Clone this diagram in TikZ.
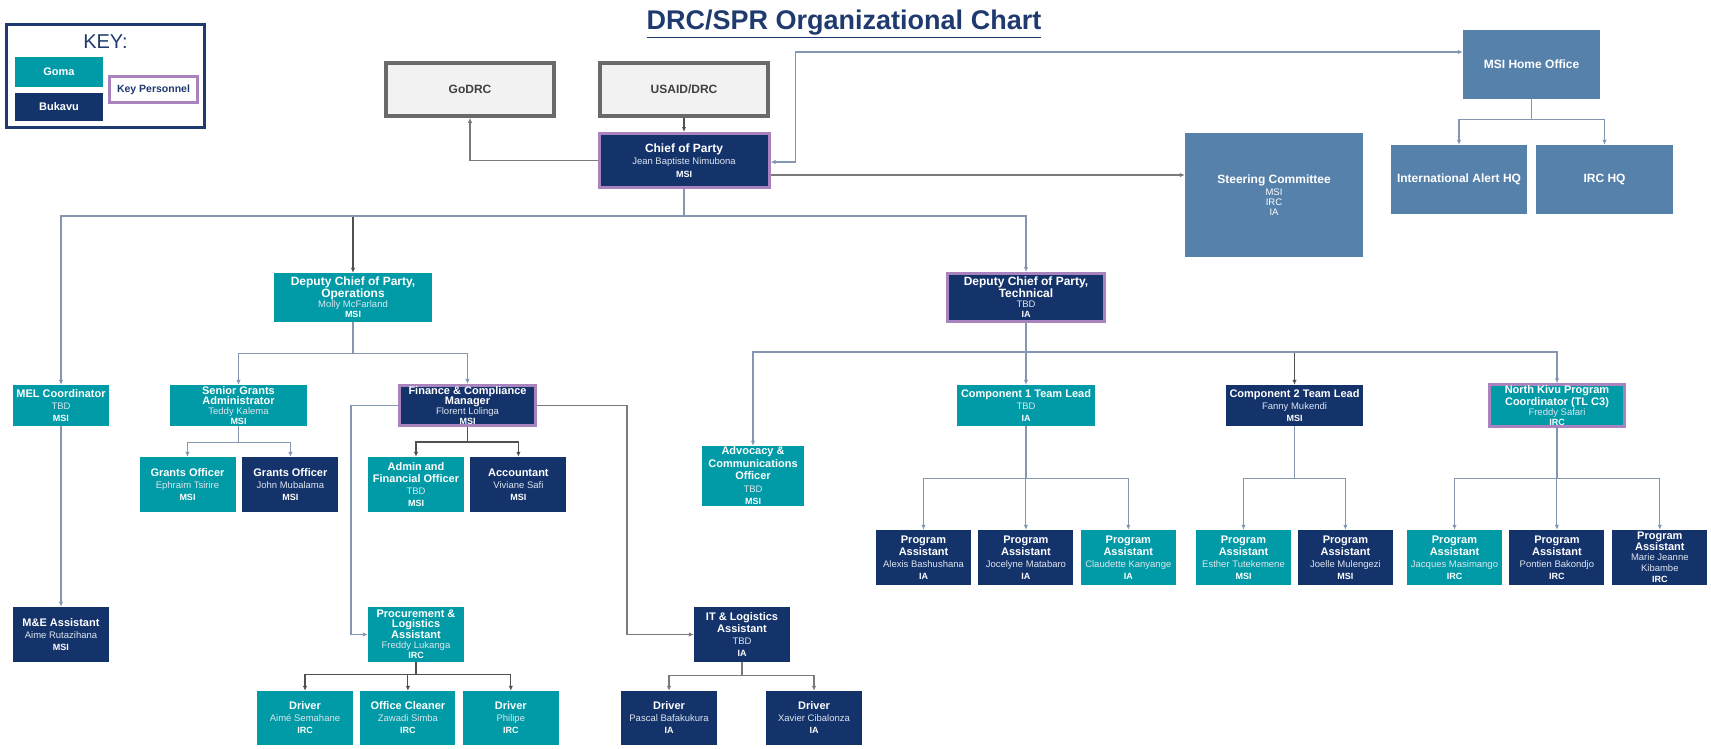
\documentclass[tikz,border=0pt]{standalone}
\usepackage{fontspec}
\setmainfont{Liberation Sans}
\usetikzlibrary{arrows.meta,positioning}
\definecolor{gomateal}{HTML}{009BA6}
\definecolor{bukavunavy}{HTML}{15336B}
\definecolor{keyline}{HTML}{A883BE}
\definecolor{hqblue}{HTML}{5681AB}
\definecolor{boxgray}{HTML}{F2F2F2}
\definecolor{rimgray}{HTML}{6A6A6A}
\definecolor{textgray}{HTML}{404040}
\definecolor{linkblue}{HTML}{8497B0}
\definecolor{linkdark}{HTML}{505050}
\definecolor{linkgray}{HTML}{7A7A7A}
\definecolor{titlenavy}{HTML}{1F3A6E}
\definecolor{paletext}{HTML}{DCE5EE}
\newcommand{\staff}[3]{{\bfseries #1}\\{\color{paletext}\fontsize{9.5}{10}\selectfont #2}\\{\bfseries\fontsize{9}{10}\selectfont #3}}

\begin{document}
\begin{tikzpicture}[x=1pt,y=-1pt,
			box/.style={inner xsep=0pt,inner ysep=1pt,align=flush center,text=white,text width=95pt,minimum height=55pt,font=\fontsize{11}{12}\selectfont},
			goma/.style={box,fill=gomateal},
			bukavu/.style={box,fill=bukavunavy},
			kp/.style={draw=keyline,line width=3pt},
			tight/.style={font=\fontsize{11}{10}\selectfont},
			deputy/.style={font=\fontsize{12}{10}\selectfont},
			hq/.style={fill=hqblue,text=white,align=flush center,inner sep=0pt,font=\bfseries\fontsize{12}{13}\selectfont},
			ext/.style={fill=boxgray,draw=rimgray,line width=3.5pt,text=textgray,minimum width=168pt,minimum height=53pt,font=\bfseries\fontsize{12}{13}\selectfont},
			arr/.style={-{Latex[length=5pt,width=4.5pt]},line width=1.1pt,draw=linkblue},
			arrd/.style={arr,draw=linkdark},
			arrg/.style={arr,draw=linkgray}
			]
			\useasboundingbox (0,0) rectangle (1711,748);
			% key
			\node[draw=titlenavy,line width=2.5pt,minimum width=198pt,minimum height=103pt] (key) at (105.5,76) {};
			\node[text=titlenavy,font=\fontsize{20}{22}\selectfont] (keytitle) at (105.5,42) {KEY:};
			\node[goma,text width=88pt,minimum height=30pt,font=\bfseries\fontsize{11}{12}\selectfont] (kgoma) at (59,72) {Goma};
			\node[bukavu,text width=88pt,minimum height=28pt,font=\bfseries\fontsize{11}{12}\selectfont] (kbukavu) at (59,106.5) {Bukavu};
			\node[kp,fill=white,text=titlenavy,inner sep=0pt,minimum width=88pt,minimum height=26pt,font=\bfseries\fontsize{10.5}{12}\selectfont] (kpers) at (153.5,89.5) {Key Personnel};
			\node[text=titlenavy,font=\bfseries\fontsize{27}{30}\selectfont] (title) at (844,24) {\underline{DRC/SPR Organizational Chart}};
			% top
			\node[ext] (godrc) at (470,89.5) {GoDRC};
			\node[ext] (usaid) at (684,89.5) {USAID/DRC};
			\node[bukavu,kp,text width=170pt,minimum height=54pt,font=\fontsize{12}{12.5}\selectfont] (cop) at (684,160.5) {\staff{Chief of Party}{Jean Baptiste Nimubona}{MSI}};
			\node[hq,minimum width=137pt,minimum height=69pt] (msiho) at (1531.5,64.5) {MSI Home Office};
			\node[hq,minimum width=136pt,minimum height=69pt] (iahq) at (1459,179.5) {International Alert HQ};
			\node[hq,minimum width=137pt,minimum height=69pt] (irchq) at (1604.5,179.5) {IRC HQ};
			\node[hq,minimum width=178pt,minimum height=124pt,font=\fontsize{9.5}{10}\selectfont] (steer) at (1274,195) {{\bfseries\fontsize{12}{13}\selectfont Steering Committee}\\[2pt]MSI\\IRC\\IA};
			% deputies
			\node[goma,deputy,text width=158pt,minimum height=49pt] (dcops) at (353,297.5) {\staff{Deputy Chief of Party,\\Operations}{Molly McFarland}{MSI}};
			\node[bukavu,kp,deputy,text width=157pt,minimum height=48pt] (dctech) at (1026,297.5) {\staff{Deputy Chief of Party,\\Technical}{TBD}{IA}};
			% leads
			\node[goma,text width=96pt,minimum height=41pt] (mel) at (61,405.5) {\staff{MEL Coordinator}{TBD}{MSI}};
			\node[goma,tight,text width=137pt,minimum height=41pt] (sga) at (238.5,405.5) {\staff{Senior Grants\\Administrator}{Teddy Kalema}{MSI}};
			\node[bukavu,kp,tight,text width=136pt,minimum height=40pt] (fcm) at (467.5,405.5) {\staff{Finance \& Compliance\\Manager}{Florent Lolinga}{MSI}};
			\node[goma,text width=138pt,minimum height=41pt] (comp1) at (1026,405.5) {\staff{Component 1 Team Lead}{TBD}{IA}};
			\node[bukavu,text width=137pt,minimum height=41pt] (comp2) at (1294.5,405.5) {\staff{Component 2 Team Lead}{Fanny Mukendi}{MSI}};
			\node[goma,kp,tight,text width=135pt,minimum height=40pt] (nkpc) at (1557,405.5) {\staff{North Kivu Program\\Coordinator (TL C3)}{Freddy Safari}{IRC}};
			% officers
			\node[goma,text width=96pt] (go1) at (187.5,484.5) {\staff{Grants Officer}{Ephraim Tsirire}{MSI}};
			\node[bukavu,text width=96pt] (go2) [right=6.5pt of go1] {\staff{Grants Officer}{John Mubalama}{MSI}};
			\node[goma,text width=96pt] (afo) at (416,484.5) {\staff{Admin and\\Financial Officer}{TBD}{MSI}};
			\node[bukavu,text width=96pt] (acct) [right=6pt of afo] {\staff{Accountant}{Viviane Safi}{MSI}};
			\node[goma,text width=102pt,minimum height=58pt,font=\fontsize{11}{12.5}\selectfont] (adv) at (753,476) {\staff{Advocacy \&\\Communications\\Officer}{TBD}{MSI}};
			% program assistants
			\node[bukavu] (pa1) at (923.5,557.5) {\staff{Program\\Assistant}{Alexis Bashushana}{IA}};
			\node[bukavu] (pa2) [right=7pt of pa1] {\staff{Program\\Assistant}{Jocelyne Matabaro}{IA}};
			\node[goma] (pa3) [right=7pt of pa2] {\staff{Program\\Assistant}{Claudette Kanyange}{IA}};
			\node[goma] (pa4) at (1243.5,557.5) {\staff{Program\\Assistant}{Esther Tutekemene}{MSI}};
			\node[bukavu] (pa5) [right=6.5pt of pa4] {\staff{Program\\Assistant}{Joelle Mulengezi}{MSI}};
			\node[goma] (pa6) at (1454.5,557.5) {\staff{Program\\Assistant}{Jacques Masimango}{IRC}};
			\node[bukavu] (pa7) [right=7pt of pa6] {\staff{Program\\Assistant}{Pontien Bakondjo}{IRC}};
			\node[bukavu,font=\fontsize{11}{11}\selectfont] (pa8) [right=7.5pt of pa7] {\staff{Program\\Assistant}{Marie Jeanne\\Kibambe}{IRC}};
			% assistants
			\node[bukavu,text width=96pt] (mea) at (61,634.5) {\staff{M\&E Assistant}{Aime Rutazihana}{MSI}};
			\node[goma,tight,text width=96pt] (proc) at (416,634.5) {\staff{Procurement \&\\Logistics\\Assistant}{Freddy Lukanga}{IRC}};
			\node[bukavu,text width=96pt] (itla) at (742,634.5) {\staff{IT \& Logistics\\Assistant}{TBD}{IA}};
			% drivers
			\node[goma,text width=96pt,minimum height=54pt] (drv1) at (305,718) {\staff{Driver}{Aimé Semahane}{IRC}};
			\node[goma,minimum height=54pt] (clean) [right=7pt of drv1] {\staff{Office Cleaner}{Zawadi Simba}{IRC}};
			\node[goma,text width=96pt,minimum height=54pt] (drv2) [right=7pt of clean] {\staff{Driver}{Philipe}{IRC}};
			\node[bukavu,text width=96pt,minimum height=54pt] (drv3) at (669,718) {\staff{Driver}{Pascal Bafakukura}{IA}};
			\node[bukavu,text width=96pt,minimum height=54pt] (drv4) at (814,718) {\staff{Driver}{Xavier Cibalonza}{IA}};
			% connectors
			\draw[arrg] (cop.west) -| (godrc.south);
			\draw[arrd] (usaid) -- (cop);
			\draw[arr,{Latex[length=5pt,width=4.5pt]}-{Latex[length=5pt,width=4.5pt]}] ([yshift=-1.5pt]cop.east) -- ++(25,0) |- ([yshift=12.5pt]msiho.west);
			\draw[arrg] ([yshift=-14.5pt]cop.east) -- ([yshift=20pt]steer.west);
			\draw[arr] (msiho.south) -- ++(0,20) -| (iahq.north);
			\draw[arr] (msiho.south) -- ++(0,20) -| (irchq.north);
			\draw[arrd] (cop.south) -- ++(0,27) -| (dcops.north);
			\draw[arr] (cop.south) -- ++(0,27) -| (mel.north);
			\draw[arr] (cop.south) -- ++(0,27) -| (dctech.north);
			\draw[arr] (mel) -- (mea);
			\draw[arr] (dcops.south) -- ++(0,31) -| (sga.north);
			\draw[arr] (dcops.south) -- ++(0,31) -| (fcm.north);
			\draw[arr] (sga.south) -- ++(0,16) -| (go1.north);
			\draw[arr] (sga.south) -- ++(0,16) -| (go2.north);
			\draw[arrd] (fcm.south) -- ++(0,15) -| (afo.north);
			\draw[arrd] (fcm.south) -- ++(0,15) -| (acct.north);
			\draw[arr] (fcm.west) -- ++(-47,0) |- (proc.west);
			\draw[arrg] (fcm.east) -- ++(90,0) |- (itla.west);
			\draw[arrd] (proc.south) -- ++(0,12) -| (drv1.north);
			\draw[arrd] (proc.south) -- ++(0,12) -| (clean.north);
			\draw[arrd] (proc.south) -- ++(0,12) -| (drv2.north);
			\draw[arrg] (itla.south) -- ++(0,13) -| (drv3.north);
			\draw[arrg] (itla.south) -- ++(0,13) -| (drv4.north);
			\draw[arrd] (dctech.south) -- ++(0,29) -| (comp2.north);
			\draw[arr] (dctech.south) -- ++(0,29) -| (adv.north);
			\draw[arr] (dctech.south) -- ++(0,29) -| (comp1.north);
			\draw[arr] (dctech.south) -- ++(0,29) -| (nkpc.north);
			\foreach \pa in {pa1,pa2,pa3} \draw[arr] (comp1.south) -- ++(0,52) -| (\pa.north);
			\foreach \pa in {pa4,pa5} \draw[arr] (comp2.south) -- ++(0,52) -| (\pa.north);
			\foreach \pa in {pa6,pa7,pa8} \draw[arr] (nkpc.south) -- ++(0,51) -| (\pa.north);
		\end{tikzpicture}
\end{document}
